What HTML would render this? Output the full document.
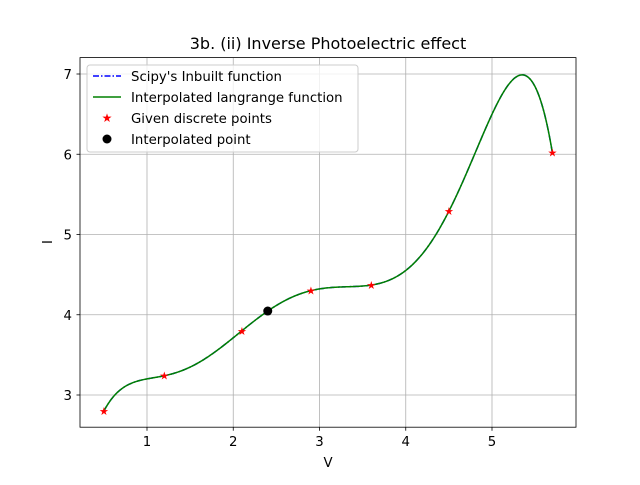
<!DOCTYPE html>
<html><head><meta charset="utf-8"><style>
body{margin:0;background:#fff}
svg{font-family:"DejaVu Sans","Liberation Sans",sans-serif}
</style></head><body>
<svg id="chart" width="640" height="480">
<rect width="640" height="480" fill="#fff"/>
<g id="grid"></g>
<g id="series"></g>
<rect x="80" y="57.6" width="496" height="369.6" fill="none" stroke="#000" stroke-width="0.8"/>
<g id="ticks"></g>
<text x="328" y="49" font-size="16" text-anchor="middle">3b. (ii) Inverse Photoelectric effect</text>
<text x="328" y="467" font-size="13.3" text-anchor="middle">V</text>
<text x="52" y="242" font-size="13.3" text-anchor="middle" transform="rotate(-90 52 242)">I</text>
<g>
<rect x="87" y="65" width="271" height="87" rx="3" fill="#fff" fill-opacity="0.8" stroke="#ccc"/>
<line x1="93" y1="76" x2="121" y2="76" stroke="#0000ff" stroke-width="1.5" stroke-dasharray="6,2,1.5,2"/>
<text x="131" y="81" font-size="13.3">Scipy's Inbuilt function</text>
<line x1="93" y1="97" x2="121" y2="97" stroke="#008000" stroke-width="1.5"/>
<text x="131" y="102" font-size="13.3">Interpolated langrange function</text>
<text x="107" y="122" font-size="12" fill="#ff0000" text-anchor="middle">★</text>
<text x="131" y="123" font-size="13.3">Given discrete points</text>
<circle cx="107" cy="139" r="4.5" fill="#000"/>
<text x="131" y="144" font-size="13.3">Interpolated point</text>
</g>
</svg>
<script>
const xs=[0.5,1.2,2.1,2.9,3.6,4.5,5.7];
const ys=[2.8,3.24,3.8,4.3,4.37,5.29,6.02];
const interpX=[2.4];
const xTicks=[1,2,3,4,5];
const yTicks=[3,4,5,6,7];
const X=v=>60.75+v*86.25, Y=v=>395-(v-3)*80.25;
const NS="http://www.w3.org/2000/svg";
function mk(t,a,p){const e=document.createElementNS(NS,t);for(const k in a)e.setAttribute(k,a[k]);p.appendChild(e);return e;}
function lag(x){let s=0;for(let i=0;i<xs.length;i++){let l=1;for(let j=0;j<xs.length;j++)if(j!==i)l*=(x-xs[j])/(xs[i]-xs[j]);s+=ys[i]*l;}return s;}
const g=document.getElementById('grid'),tk=document.getElementById('ticks'),se=document.getElementById('series');
xTicks.forEach(v=>{
 const l=mk('line',{x1:X(v),x2:X(v),y1:57.6,y2:427.2,stroke:'#b0b0b0','stroke-width':0.8},g);
 
 mk('line',{x1:X(v),x2:X(v),y1:427.2,y2:430.7,stroke:'#000','stroke-width':0.8},tk);
 const t=mk('text',{x:X(v),y:446,'font-size':13.3,'text-anchor':'middle'},tk);t.textContent=v;
 
});
yTicks.forEach(v=>{
 const l=mk('line',{x1:80,x2:576,y1:Y(v),y2:Y(v),stroke:'#b0b0b0','stroke-width':0.8},g);
 
 mk('line',{x1:76.5,x2:80,y1:Y(v),y2:Y(v),stroke:'#000','stroke-width':0.8},tk);
 const t=mk('text',{x:72,y:Y(v)+5,'font-size':13.3,'text-anchor':'end'},tk);t.textContent=v;
 
});
let d='';const x0=xs[0],x1=xs[xs.length-1];
for(let i=0;i<=400;i++){const x=x0+(x1-x0)*i/400;d+=(i?'L':'M')+X(x).toFixed(2)+','+Y(lag(x)).toFixed(2);}
const b=mk('path',{d:d,fill:'none',stroke:'#0000ff','stroke-width':1.5,'stroke-dasharray':'6,2,1.5,2'},se);

const gr=mk('path',{d:d,fill:'none',stroke:'#008000','stroke-width':1.5},se);

xs.forEach((x,i)=>{
 const t=mk('text',{x:X(x),y:Y(ys[i])+4,'font-size':11,fill:'#ff0000','text-anchor':'middle'},se);t.textContent='★';
 
});
interpX.forEach(x=>{
 const c=mk('circle',{cx:X(x),cy:Y(lag(x)),r:4.5,fill:'#000'},se);
 
});
</script>
</body></html>
